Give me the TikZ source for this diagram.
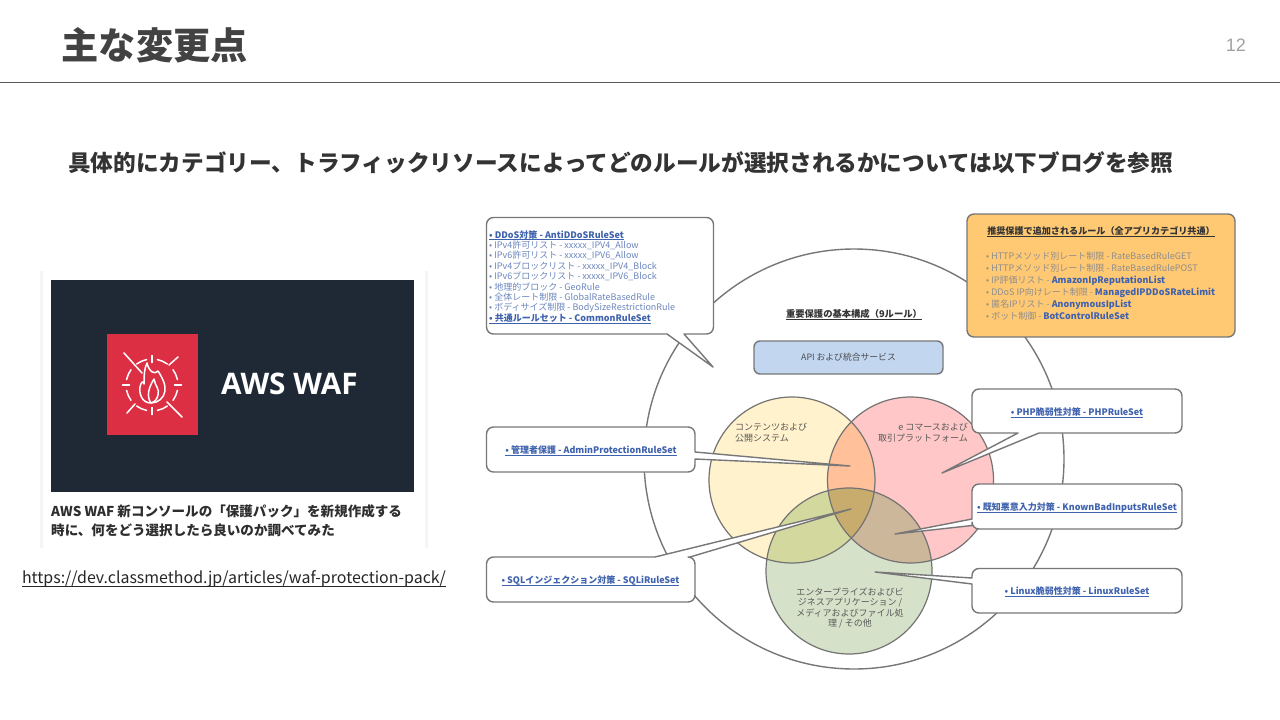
\documentclass[tikz,border=0pt]{standalone}
\usepackage{fontspec}
\setmainfont{Noto Sans CJK JP}
\newfontfamily\latinfont{Liberation Sans}
\newfontfamily\awsfont{Open Sans}
\definecolor{linkblue}{HTML}{3F62AE}
\definecolor{softgray}{HTML}{8E8E8E}
\definecolor{listblue}{HTML}{6C86BE}
\definecolor{ink}{HTML}{333333}
\definecolor{edge}{HTML}{777777}
\definecolor{navy}{HTML}{1F2936}
\definecolor{wafred}{HTML}{DD2F44}
\definecolor{vy}{HTML}{FFF2CC}
\definecolor{vp}{HTML}{FFC7C7}
\definecolor{vg}{HTML}{D5E2C9}
\definecolor{vyp}{HTML}{FFC09A}
\definecolor{vyg}{HTML}{D3D89E}
\definecolor{vpg}{HTML}{CDB79B}
\definecolor{vall}{HTML}{C8AC6E}
\definecolor{orangebox}{HTML}{FFC873}
\definecolor{bluebox}{HTML}{C2D6F0}
\tikzset{
  callout/.style={draw=edge,line width=1.4pt,fill=white,line join=round,rounded corners=7pt},
  ven/.style={draw=black!55,line width=1.2pt},
  vlabel/.style={font=\fontsize{9}{10.5}\selectfont,text=black!65,inner sep=0pt},
  rulelink/.style={font=\fontsize{9}{11}\bfseries\selectfont,text=linkblue,inner sep=0pt},
  rulelist/.style={font=\fontsize{9}{10.4}\selectfont,align=left,inner sep=0pt,anchor=north west},
  ico/.style={draw=white,line width=1.5pt,line cap=round}
}
\newcommand{\hl}[1]{\textcolor{linkblue}{\bfseries #1}}
\newcommand{\ulx}[1]{\setbox0=\hbox{#1}\rlap{\vrule width\wd0 height -.14em depth .22em}\box0\relax}
\begin{document}
\begin{tikzpicture}[x=1pt,y=-1pt]
\useasboundingbox (0,0) rectangle (1280,720);
\fill[white] (0,0) rectangle (1280,720);
% header
\node[anchor=west,inner sep=0pt,text=black!74,font=\fontsize{37.2}{40}\bfseries\selectfont] (title) at (61.5,45) {主な変更点};
\node[anchor=east,inner sep=0pt,text=black!37,font=\latinfont\fontsize{18}{20}\selectfont] (pageno) at (1246,45) {12};
\draw[black!65,line width=1pt] (0,82.5) -- (1280,82.5);
\node[anchor=west,inner sep=0pt,text=ink,font=\fontsize{22.65}{26}\bfseries\selectfont] (lead) at (68,163) {具体的にカテゴリー、トラフィックリソースによってどのルールが選択されるかについては以下ブログを参照};
% card
\fill[black!4] (40,271) rectangle (43,548) (425,271) rectangle (428,548);
\fill[navy] (51,280) rectangle (414,492);
\fill[wafred] (107,334) rectangle (198,435);
\begin{scope}[shift={(152,385)}]
 \foreach \a in {12,102,192,282}{\draw[ico] (\a:26) arc (\a:\a+24:26);}
 \foreach \a in {54,144,234,324}{\draw[ico] (\a:26) arc (\a:\a+24:26);}
 \foreach \a in {0,90,180,270}{\draw[ico] (\a:22.5) -- (\a:29.5);}
 \draw[ico] (-28,-32) -- (-10,-12) (15,17) -- (30,32);
 \draw[ico] (17,-20) -- (26,-28) (-17,19) -- (-25,28);
 \draw[ico,line join=round] (-1,18) .. controls (-10,18) and (-13,9) .. (-12,2) .. controls (-11,-3) and (-9,-5) .. (-8,-1) .. controls (-8,-8) and (-8,-16) .. (-5,-22) .. controls (-3,-13) and (3,-10) .. (6,-14) .. controls (10,-8) and (14,0) .. (13,6) .. controls (12,13) and (6,18) .. (-1,18);
 \draw[ico,line join=round] (-1,18) .. controls (-6,11) and (-3,2) .. (2,-6) .. controls (3,1) and (8,4) .. (6,10) .. controls (5,14) and (3,17) .. (-1,18);
\end{scope}
\node[anchor=west,inner sep=0pt,text=white,font=\awsfont\fontsize{29.7}{34}\bfseries\selectfont] (aws) at (221,384) {AWS WAF};
\node[anchor=north west,inner sep=0pt,align=left,text=black!82,font=\fontsize{13.55}{19}\bfseries\selectfont] (cardtext) at (51,504) {AWS WAF 新コンソールの「保護パック」を新規作成する\\時に、何をどう選択したら良いのか調べてみた};
\node[inner sep=0pt,text=black!85,font=\fontsize{15.95}{20}\selectfont] (url) at (234,579) {\ulx{https://dev.classmethod.jp/articles/waf-protection-pack/}};
% big circle
\draw[edge,line width=1.4pt] (854,459) circle (210);
% venn
\fill[vy] (792,480) circle (83);
\fill[vp] (910.5,480) circle (83);
\fill[vg] (849,571) circle (83);
\begin{scope}\clip (792,480) circle (83); \fill[vyp] (910.5,480) circle (83); \fill[vyg] (849,571) circle (83);
 \clip (910.5,480) circle (83); \fill[vall] (849,571) circle (83);\end{scope}
\begin{scope}\clip (910.5,480) circle (83); \clip (849,571) circle (83);
 \fill[vpg] (700,380) rectangle (1000,680);
 \clip (792,480) circle (83); \fill[vall] (700,380) rectangle (1000,680);\end{scope}
\draw[ven] (792,480) circle (83) (910.5,480) circle (83) (849,571) circle (83);
\node[vlabel,anchor=north west,align=left] (vcontent) at (735,423) {コンテンツおよび\\公開システム};
\node[vlabel,anchor=north east,align=right] (vshop) at (968,423) {e コマースおよび\\取引プラットフォーム};
\node[vlabel,align=center] (vent) at (850,608) {エンタープライズおよびビ\\ジネスアプリケーション /\\メディアおよびファイル処\\理 / その他};
% centre
\node[inner sep=0pt,text=black!80,font=\fontsize{9.3}{11}\bfseries\selectfont] (coretitle) at (854,314.5) {\ulx{重要保護の基本構成（9ルール）}};
\node[draw=edge,line width=1.4pt,fill=bluebox,rounded corners=6pt,minimum width=189pt,minimum height=33pt,inner sep=0pt,text=black!70,font=\fontsize{8.8}{11}\selectfont] (apibox) at (848.5,357.5) {API および統合サービス};
% callouts
\draw[callout] (486.5,217.5) -- (713.5,217.5) -- (713.5,334) [sharp corners] -- (684,334) -- (713,367) -- (667,334) [rounded corners=7pt] -- (486.5,334) -- cycle;
\draw[callout] (486.5,427) -- (695,427) [sharp corners] -- (695,452) -- (850,466) -- (695,459) [rounded corners=7pt] -- (695,472) -- (486.5,472) -- cycle;
\draw[callout] (486.5,557) [sharp corners] -- (655,557) -- (851,509) -- (690,557) [rounded corners=7pt] -- (695,557) -- (695,602) -- (486.5,602) -- cycle;
\draw[callout] (972,389) -- (1182,389) -- (1182,433) [sharp corners] -- (1039,433) -- (942,473) -- (1018,433) [rounded corners=7pt] -- (972,433) -- cycle;
\draw[callout] (972,484) -- (1182,484) -- (1182,529) -- (972,529) [sharp corners] -- (972,525.5) -- (895,534) -- (972,519) [rounded corners=7pt] -- cycle;
\draw[callout] (972,568.5) -- (1182,568.5) -- (1182,613) -- (972,613) [sharp corners] -- (972,584) -- (875,572) -- (972,578) [rounded corners=7pt] -- cycle;
\node[draw=edge,line width=1.4pt,fill=orangebox,rounded corners=7pt,minimum width=268pt,minimum height=123pt,inner sep=0pt] (recbox) at (1101,275.5) {};
% callout texts
\node[rulelist,text=listblue] (ddos) at (489,230.2) {\hl{\ulx{• DDoS対策 - AntiDDoSRuleSet}}\\• IPv4許可リスト - xxxxx\_IPV4\_Allow\\• IPv6許可リスト - xxxxx\_IPV6\_Allow\\• IPv4ブロックリスト - xxxxx\_IPV4\_Block\\• IPv6ブロックリスト - xxxxx\_IPV6\_Block\\• 地理的ブロック - GeoRule\\• 全体レート制限 - GlobalRateBasedRule\\• ボディサイズ制限 - BodySizeRestrictionRule\\\hl{\ulx{• 共通ルールセット - CommonRuleSet}}};
\node[rulelink] (admin) at (591,450.5) {\ulx{• 管理者保護 - AdminProtectionRuleSet}};
\node[rulelink] (sqli) at (590.5,580.5) {\ulx{• SQLインジェクション対策 - SQLiRuleSet}};
\node[rulelink] (php) at (1077,412.5) {\ulx{• PHP脆弱性対策 - PHPRuleSet}};
\node[rulelink] (known) at (1077,507.5) {\ulx{• 既知悪意入力対策 - KnownBadInputsRuleSet}};
\node[rulelink] (linux) at (1077,592) {\ulx{• Linux脆弱性対策 - LinuxRuleSet}};
\node[inner sep=0pt,text=black!80,font=\fontsize{9.1}{11}\bfseries\selectfont] (rectitle) at (1101,232) {\ulx{推奨保護で追加されるルール（全アプリカテゴリ共通）}};
\node[anchor=north west,inner sep=0pt,align=left,text=softgray,font=\fontsize{9}{12}\selectfont] (reclist) at (986,252) {• HTTPメソッド別レート制限 - RateBasedRuleGET\\• HTTPメソッド別レート制限 - RateBasedRulePOST\\• IP評価リスト - \hl{AmazonIpReputationList}\\• DDoS IP向けレート制限 - \hl{ManagedIPDDoSRateLimit}\\• 匿名IPリスト - \hl{AnonymousIpList}\\• ボット制御 - \hl{BotControlRuleSet}};
\end{tikzpicture}
\end{document}
